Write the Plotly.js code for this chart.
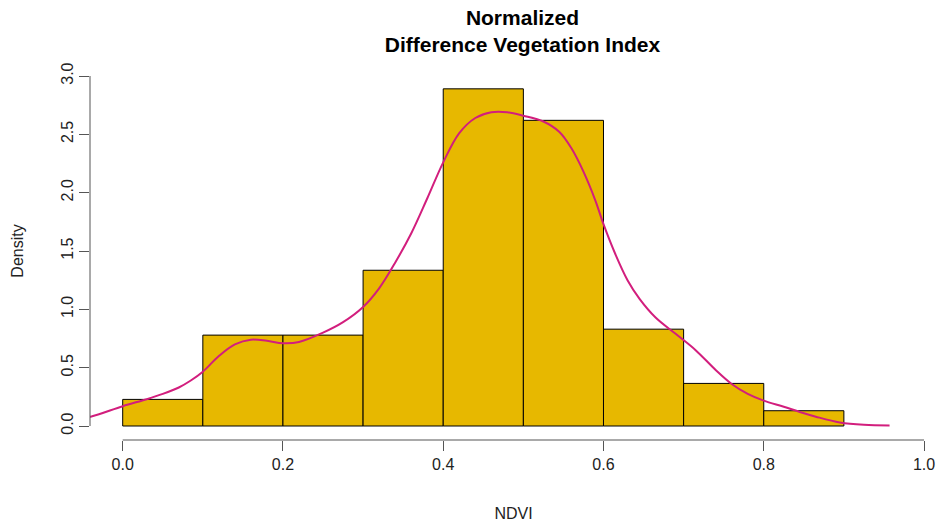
<!DOCTYPE html>
<html>
<head>
<meta charset="utf-8">
<script src="https://cdn.plot.ly/plotly-3.0.1.min.js"></script>
<style>html,body{margin:0;padding:0;background:#fff;}#chart{width:937px;height:522px;}</style>
</head>
<body>
<div id="chart"></div>
<script>
// Histogram breaks and densities
const breaks = [0.0, 0.1, 0.2, 0.3, 0.4, 0.5, 0.6, 0.7, 0.8, 0.9];
const density = [0.228, 0.779, 0.779, 1.335, 2.89, 2.62, 0.83, 0.365, 0.131];

// Kernel density curve
const kdeX = [-0.06, -0.04, 0.0, 0.03, 0.05, 0.07, 0.085, 0.10, 0.12, 0.14, 0.16, 0.18, 0.20, 0.22, 0.25, 0.275, 0.30, 0.32, 0.34, 0.36, 0.38, 0.40, 0.42, 0.44, 0.46, 0.48, 0.50, 0.525, 0.545, 0.56, 0.575, 0.59, 0.60, 0.615, 0.63, 0.645, 0.665, 0.69, 0.715, 0.74, 0.76, 0.78, 0.80, 0.825, 0.845, 0.865, 0.895, 0.925, 0.957];
const kdeY = [0.06, 0.08, 0.17, 0.23, 0.275, 0.33, 0.39, 0.465, 0.60, 0.70, 0.74, 0.73, 0.71, 0.72, 0.80, 0.89, 1.02, 1.18, 1.40, 1.65, 1.95, 2.26, 2.51, 2.64, 2.69, 2.69, 2.66, 2.61, 2.52, 2.38, 2.18, 1.93, 1.73, 1.47, 1.25, 1.09, 0.93, 0.79, 0.65, 0.48, 0.36, 0.275, 0.217, 0.165, 0.12, 0.08, 0.03, 0.01, 0.005];

const xTicks = [0.0, 0.2, 0.4, 0.6, 0.8, 1.0];
const xTickText = ["0.0", "0.2", "0.4", "0.6", "0.8", "1.0"];
const yTicks = [0.0, 0.5, 1.0, 1.5, 2.0, 2.5, 3.0];
const yTickText = ["0.0", "0.5", "1.0", "1.5", "2.0", "2.5", "3.0"];

const mids = [], widths = [];
for (let i = 0; i < density.length; i++) {
  mids.push((breaks[i] + breaks[i + 1]) / 2);
  widths.push(breaks[i + 1] - breaks[i]);
}

const traces = [
  {
    type: 'bar', x: mids, y: density, width: widths,
    marker: {color: '#E7B800', line: {color: '#000000', width: 1}},
    hoverinfo: 'x+y', showlegend: false
  },
  {
    type: 'scatter', mode: 'lines', x: kdeX, y: kdeY,
    line: {color: '#D21E7D', width: 2, shape: 'spline', smoothing: 1},
    showlegend: false
  }
];

const font = {family: '"Liberation Sans", Arial, sans-serif', color: '#000'};

const layout = {
  width: 937, height: 522,
  paper_bgcolor: '#fff', plot_bgcolor: '#fff',
  margin: {l: 90, r: 0, t: 62, b: 82, pad: 0},
  font: font,
  bargap: 0,
  title: {
    text: '<b>Normalized</b><br><b>Difference Vegetation Index</b>',
    font: {family: font.family, size: 21, color: '#000'},
    x: 0.5106, xanchor: 'center', xref: 'paper',
    y: 0.952, yanchor: 'top', yref: 'container'
  },
  xaxis: {
    range: [-0.0408, 1.0162], autorange: false,
    tickvals: xTicks, ticktext: xTickText,
    ticks: 'outside', ticklen: 10, tickwidth: 1, tickcolor: '#555',
    showgrid: false, zeroline: false, showline: false,
    tickfont: {family: font.family, size: 16, color: '#222'},
    title: {text: 'NDVI', font: {family: font.family, size: 16, color: '#222'}, standoff: 38}
  },
  yaxis: {
    range: [-0.12, 3.12], autorange: false,
    tickvals: yTicks, ticktext: yTickText, tickangle: -90,
    ticks: 'outside', ticklen: 10, tickwidth: 1, tickcolor: '#555',
    showgrid: false, zeroline: false, showline: false,
    tickfont: {family: font.family, size: 16, color: '#222'},
    title: {text: 'Density', font: {family: font.family, size: 16, color: '#222'}, standoff: 30}
  },
  shapes: [
    {type: 'line', xref: 'x', yref: 'paper', x0: xTicks[0], x1: xTicks[xTicks.length - 1], y0: 0, y1: 0, line: {color: '#555', width: 1}},
    {type: 'line', xref: 'paper', yref: 'y', x0: 0, x1: 0, y0: yTicks[0], y1: yTicks[yTicks.length - 1], line: {color: '#555', width: 1}}
  ]
};

Plotly.newPlot('chart', traces, layout, {displayModeBar: false, staticPlot: true});
</script>
</body>
</html>
